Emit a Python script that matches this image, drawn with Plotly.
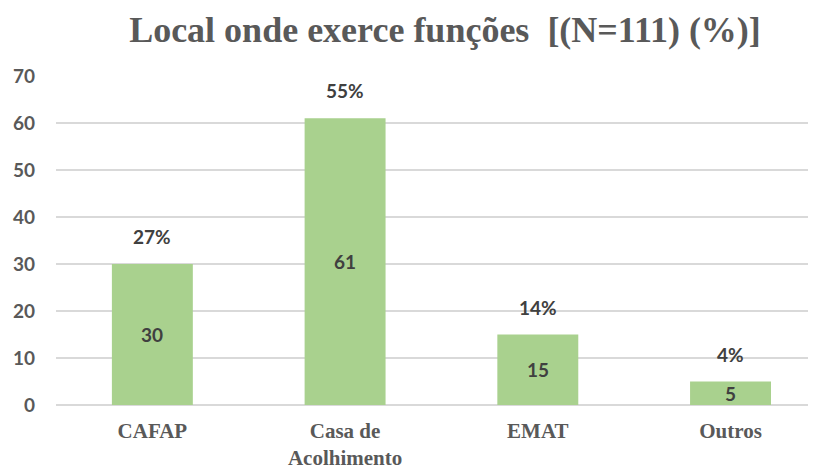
import plotly.graph_objects as go

categories = ["CAFAP", "Casa de<br>Acolhimento", "EMAT", "Outros"]
counts = [30, 61, 15, 5]
percents = [27, 55, 14, 4]
y_ticks = [0, 10, 20, 30, 40, 50, 60, 70]

fig = go.Figure()
fig.add_trace(go.Bar(
    x=list(range(len(categories))),
    y=counts,
    width=0.42,
    marker=dict(color="#a9d18e", line=dict(width=0)),
    cliponaxis=False,
))

lab_font = dict(family="Lato", size=19, color="#404040")
for i, (c, p) in enumerate(zip(counts, percents)):
    fig.add_annotation(
        x=i, y=c, text=f"<b>{p}%</b>", showarrow=False,
        yanchor="bottom", yshift=14, font=lab_font,
    )
    fig.add_annotation(
        x=i, y=c / 2, text=f"<b>{c}</b>", showarrow=False,
        yanchor="middle", font=lab_font,
    )

fig.update_layout(
    width=816, height=471,
    margin=dict(l=48, r=0, t=68, b=74),
    plot_bgcolor="white", paper_bgcolor="white",
    showlegend=False,
    title=dict(
        text="<b>Local onde exerce funções  [(N=111) (%)]</b>",
        x=437 / 816, xanchor="center", y=0.955, yanchor="middle",
        font=dict(family="Liberation Serif", size=36, color="#595959"),
    ),
    xaxis=dict(
        range=[-0.5, 3.485],
        tickmode="array",
        tickvals=list(range(len(categories))),
        ticktext=[f"<b>{c}</b>" for c in categories],
        tickfont=dict(family="Liberation Serif", size=21, color="#595959"),
        showgrid=False, zeroline=False, showline=False,
        ticks="", ticklabelstandoff=11, automargin=False,
    ),
    yaxis=dict(
        range=[0, 70],
        tickmode="array",
        tickvals=y_ticks,
        ticktext=[f"<b>{t}</b>" for t in y_ticks],
        tickfont=dict(family="Lato", size=19, color="#595959"),
        showgrid=True, gridcolor="#d9d9d9", gridwidth=1.5,
        zeroline=True, zerolinecolor="#d9d9d9", zerolinewidth=2,
        showline=False, ticks="", ticklabelstandoff=20, automargin=False,
    ),
)

fig.write_html("out.html")
